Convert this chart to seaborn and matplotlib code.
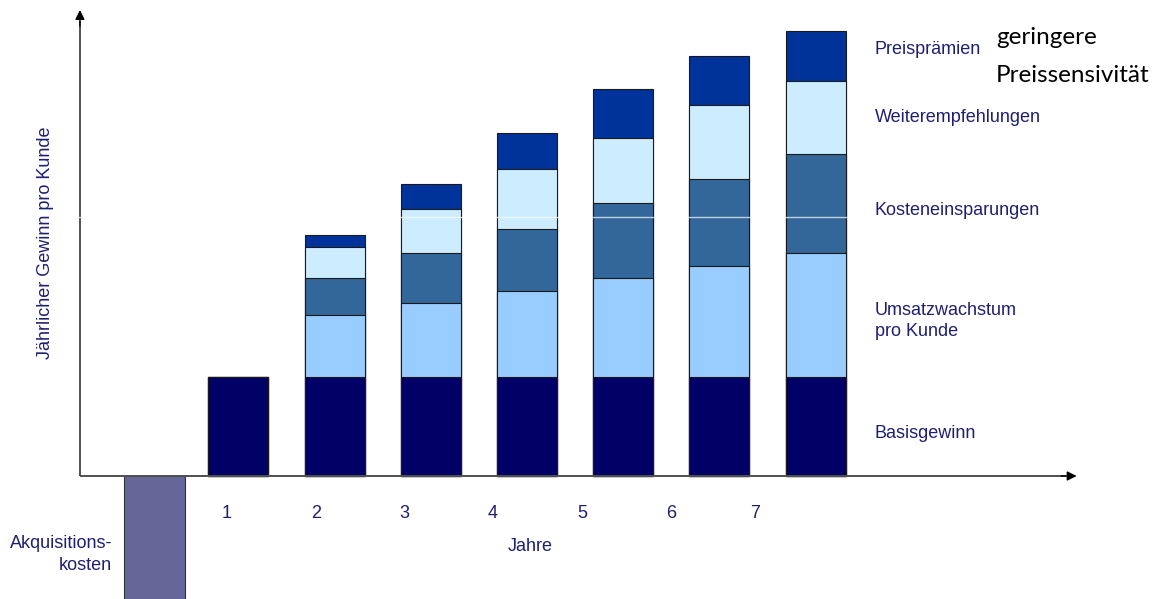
import matplotlib
matplotlib.use("Agg")
import matplotlib.pyplot as plt
import seaborn as sns
import numpy as np
import pandas as pd

# ---------------- data (arbitrary profit units) ----------------
years = [1, 2, 3, 4, 5, 6, 7]
year_labels = ["1", "2", "3", "4", "5", "6", "7"]
basisgewinn = [99, 99, 99, 99, 99, 99, 99]
umsatzwachstum = [0, 62, 74, 86, 99, 111, 124]
kosteneinsparungen = [0, 37, 50, 62, 75, 87, 99]
weiterempfehlungen = [0, 31, 44, 60, 65, 74, 73]
preispraemien = [0, 12, 25, 36, 49, 49, 50]
akquisitionskosten = [-130]

layer_names = ["Basisgewinn", "Umsatzwachstum\npro Kunde", "Kosteneinsparungen",
               "Weiterempfehlungen", "Preisprämien"]
layer_colors = ["#000066", "#99CCFF", "#336699", "#CCECFF", "#003399"]
acq_color = "#666699"
text_color = "#1f1f72"

W, H = 1159, 599
sns.set_theme(style="white")
plt.rcParams["font.family"] = ["Liberation Sans", "DejaVu Sans"]

fig = plt.figure(figsize=(W / 100, H / 100), dpi=100)
ax = fig.add_axes([0, 0, 1, 1])
ax.set_axis_off()

# cumulative stacks, drawn from the top layer down so lower layers overlay
layers = [basisgewinn, umsatzwachstum, kosteneinsparungen, weiterempfehlungen, preispraemien]
cum = np.cumsum(np.array(layers, dtype=float), axis=0)
for i in range(len(layers) - 1, -1, -1):
    df = pd.DataFrame({"Jahr": years, "Gewinn": cum[i]})
    sns.barplot(data=df, x="Jahr", y="Gewinn", native_scale=True, width=0.624,
                color=layer_colors[i], saturation=1, edgecolor="#1a1a1a",
                linewidth=0.8, ax=ax, zorder=3)

# acquisition cost bar (year 0, negative)
df_acq = pd.DataFrame({"Jahr": [0.127], "Gewinn": akquisitionskosten})
sns.barplot(data=df_acq, x="Jahr", y="Gewinn", native_scale=True, width=0.624,
            color=acq_color, saturation=1, edgecolor="#333333", linewidth=0.8,
            ax=ax, zorder=3)

ax.set_xlim(-1.479, 10.569)
ax.set_ylim(-123, 476)
ax.set_axis_off()

# faint white guide line
ax.axhline(259, color="white", lw=1.0, alpha=0.7, zorder=6)

# axes with arrows
ax.plot([-0.648, 9.60], [0, 0], color="#505050", lw=1.4, zorder=5, solid_capstyle="butt")
ax.plot([-0.648, -0.648], [0, 455], color="#505050", lw=1.4, zorder=5, solid_capstyle="butt")
ax.annotate("", xy=(9.713, 0), xytext=(9.55, 0),
            arrowprops=dict(arrowstyle="-|>", color="black", lw=1.0,
                            mutation_scale=14, shrinkA=0, shrinkB=0), zorder=5)
ax.annotate("", xy=(-0.648, 466), xytext=(-0.648, 450),
            arrowprops=dict(arrowstyle="-|>", color="black", lw=1.0,
                            mutation_scale=14, shrinkA=0, shrinkB=0), zorder=5)


def fx(x):
    return x / W


def fy(y):
    return 1 - y / H


fs = 13
# year labels
label_px = [226.5, 316, 404, 493, 582, 671.5, 755.5]
for lab, xp in zip(year_labels, label_px):
    fig.text(fx(xp), fy(513), lab, ha="center", va="center", fontsize=fs, color=text_color)
fig.text(fx(530), fy(546.5), "Jahre", ha="center", va="center", fontsize=fs, color=text_color)
fig.text(fx(112), fy(543), "Akquisitions-", ha="right", va="center",
         fontsize=fs, color=text_color)
fig.text(fx(112), fy(566), "kosten", ha="right", va="center",
         fontsize=fs, color=text_color)
fig.text(fx(46), fy(243), "Jährlicher Gewinn pro Kunde", ha="center", va="center",
         rotation=90, fontsize=fs, color=text_color)

# layer labels on the right
right_pos = [433.5, 321, 210.5, 117.5, 49.5]
for name, yp in zip(layer_names, right_pos):
    fig.text(fx(875), fy(yp), name, ha="left", va="center", fontsize=fs,
             color=text_color, linespacing=1.3)

fig.text(fx(996), fy(37), "geringere", ha="left", va="center",
         fontsize=17.5, color="black", family=["Lato", "DejaVu Sans"])
fig.text(fx(996), fy(76), "Preissensivität", ha="left", va="center",
         fontsize=17.5, color="black", family=["Lato", "DejaVu Sans"])

fig.savefig("out.png", dpi=100)
